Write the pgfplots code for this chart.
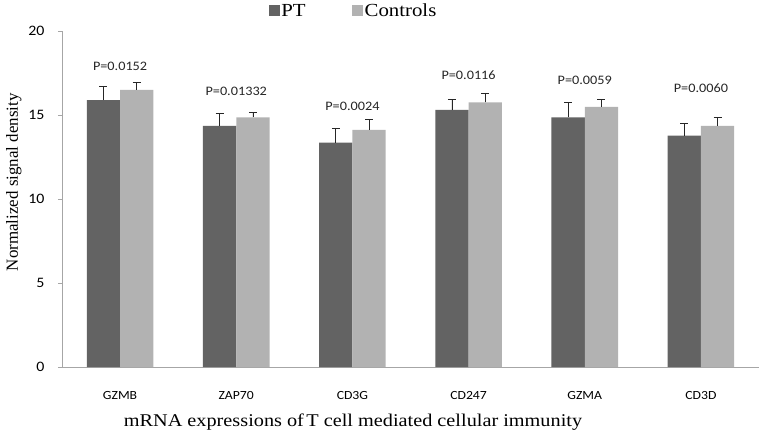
\documentclass[border=0pt]{standalone}
\usepackage{pgfplots}
\pgfplotsset{compat=1.18}
\usepackage{pgfplotstable}
\usepackage{fontspec}
\setmainfont{Liberation Serif}
\newfontfamily\serifw[FakeStretch=1.13]{Liberation Serif}
\newfontfamily\carl[FakeStretch=1.1]{Carlito}
\definecolor{ptc}{HTML}{636363}
\definecolor{ctc}{HTML}{B2B2B2}
\definecolor{axc}{HTML}{A6A6A6}

\pgfplotstableread{
x pt pterr ct cterr
0 15.89 0.80 16.49 0.47
1 14.35 0.75 14.86 0.30
2 13.35 0.88 14.11 0.63
3 15.30 0.63 15.75 0.56
4 14.86 0.89 15.49 0.44
5 13.77 0.73 14.35 0.51
}\data

\begin{document}
\begin{tikzpicture}
\path[use as bounding box] (-62bp,-70bp) rectangle (701bp,367bp);
\begin{axis}[
  at={(0,0)}, anchor=south west,
  scale only axis, width=697bp, height=336bp,
  ymin=0, ymax=20, xmin=-0.5, xmax=5.5,
  ytick={0,5,10,15,20},
  xtick={0,1,2,3,4,5},
  xticklabels={GZMB,ZAP70,CD3G,CD247,GZMA,CD3D},
  axis x line*=bottom, axis y line*=left,
  axis line style={axc, line width=0.8bp},
  tick align=outside,
  major tick length=4bp,
  ytick style={axc, line width=0.8bp},
  xtick style={draw=none},
  /pgf/number format/assume math mode=true,
  y tick label style={font=\carl\fontsize{14.5}{16}\selectfont, xshift=-10bp},
  x tick label style={font=\carl\fontsize{12.5}{15}\selectfont, yshift=-17bp},
  ybar=0pt, bar width=33.3bp,
  xlabel={mRNA expressions of\kern-0.15em\ T cell mediated cellular immunity},
  xlabel style={font=\serifw\fontsize{18}{20}\selectfont, at={(axis description cs:0.4175,-0.163)}, anchor=center},
  ylabel={Normalized signal density},
  ylabel style={font=\fontsize{17}{19}\selectfont, at={(axis description cs:-0.069,0.55)}, anchor=center, rotate=0},
  legend columns=2,
  legend style={at={(axis description cs:0.418,1.06)}, anchor=center, draw=none,
    font=\serifw\fontsize{18.5}{20}\selectfont,
    nodes={inner sep=1.5bp},
    /tikz/every even column/.append style={column sep=45bp}},
  legend image code/.code={\fill[#1] (0bp,-5bp) rectangle (11bp,6bp);},
  error bars/error bar style={black!85, line width=0.8bp},
  error bars/error mark options={black!85, line width=0.8bp, mark size=4bp, rotate=90},
]
\addplot[fill=ptc, draw=none, error bars/.cd, y dir=plus, y explicit]
  table[x=x, y=pt, y error=pterr] {\data};
\addplot[fill=ctc, draw=none, error bars/.cd, y dir=plus, y explicit]
  table[x=x, y=ct, y error=cterr] {\data};
\legend{PT, Controls}
\begin{scope}[every node/.style={font=\carl\fontsize{13}{15}\selectfont, text=black!85}]
\node at (axis cs:0,17.87) {P=0.0152};
\node at (axis cs:1,16.38) {P=0.01332};
\node at (axis cs:2,15.54) {P=0.0024};
\node at (axis cs:3,17.38) {P=0.0116};
\node at (axis cs:4,17.08) {P=0.0059};
\node at (axis cs:5,16.58) {P=0.0060};
\end{scope}
\end{axis}
\end{tikzpicture}
\end{document}
